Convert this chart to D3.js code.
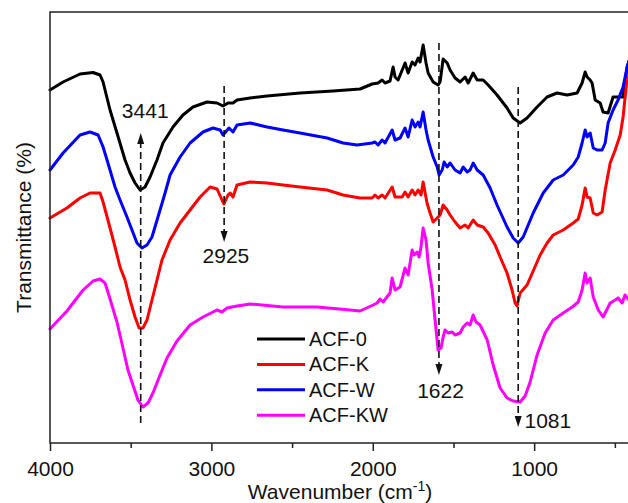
<!DOCTYPE html>
<html>
	<head>
		<meta charset="utf-8">
		<title> FTIR spectra </title>
		<style>
			body { margin: 0; background: #fff; }
			text { font-family: "Liberation Sans", Arial, sans-serif; fill: #111; }
			.curve { fill: none; stroke-width: 3; stroke-linejoin: round; stroke-linecap: round; }
		</style>
	</head>
	<body>
		<script src="https://d3js.org/d3.v7.min.js"></script>
		<script>
			// spectra: [wavenumber, transmittance (a.u.)]
			var acf0 = [[4000,70.6],[3919,72.2],[3814,73.8],[3733,74.1],[3690,73.6],[3671,72.2],[3659,70.6],[3628,66.6],[3585,62],[3535,56.6],[3504,54],[3473,52],[3442,50.6],[3411,51.2],[3380,53.2],[3337,56.6],[3300,60],[3238,63.2],[3176,65.6],[3114,67.2],[3027,68.2],[2965,68],[2928,67.4],[2897,68],[2866,68],[2841,68.6],[2760,69],[2655,69.4],[2451,70],[2246,70.4],[2079,70.8],[2004,71.8],[1967,72],[1942,72.6],[1924,72],[1893,72.4],[1874,75.2],[1862,73.2],[1843,72.6],[1800,76],[1781,74],[1756,76.2],[1738,75.6],[1719,77],[1707,76.2],[1688,79.6],[1670,76],[1657,74],[1626,72.2],[1595,71.6],[1583,72.2],[1564,76.8],[1539,76],[1521,74.6],[1490,73],[1459,72.2],[1428,73.2],[1409,72],[1378,74],[1353,72.6],[1316,72.6],[1285,71.6],[1230,69.6],[1168,67],[1130,65],[1087,64],[1044,65],[982,67.2],[920,69.2],[858,70],[796,69.6],[734,70],[703,72],[684,74.2],[672,73.2],[653,72.6],[641,72],[622,68.6],[591,68],[573,66.2],[542,66],[511,69.2],[480,69.2],[449,69.2],[424,75.2],[400,77.6]];
			var acfK = [[4000,45],[3895,47],[3814,49],[3752,50],[3690,50],[3671,48.2],[3628,43],[3597,39.2],[3566,35.2],[3535,32.6],[3504,28.6],[3473,25.2],[3448,23],[3424,23],[3399,24.6],[3368,28.6],[3337,32.6],[3306,36.6],[3256,40.6],[3194,44],[3132,46.6],[3070,49.2],[3008,51.2],[2965,50.8],[2934,48.6],[2922,47.8],[2897,49.6],[2884,50],[2866,49.2],[2841,51.6],[2760,52.2],[2655,52],[2556,51.6],[2451,51.2],[2283,50.6],[2184,49.6],[2079,49],[2004,49],[1986,49.6],[1967,49],[1942,49.6],[1924,49],[1880,51.2],[1862,49.2],[1818,49.2],[1800,50.2],[1781,49.2],[1756,50.6],[1738,49.6],[1719,50.6],[1701,49.6],[1688,52.2],[1664,48],[1645,46],[1626,44.2],[1601,45],[1583,45.6],[1564,47.6],[1539,46.6],[1521,45.6],[1490,44.2],[1459,43],[1428,43.6],[1409,43],[1378,44.6],[1353,43.6],[1316,43.2],[1285,42],[1242,39.6],[1211,37.2],[1168,34],[1137,30.6],[1118,28],[1106,27.4],[1087,30],[1044,31.6],[1006,34.4],[963,37.6],[920,40],[882,41.6],[820,42.6],[758,44],[727,44.8],[703,47.6],[684,51],[672,49.2],[653,49],[634,46],[610,45.6],[579,46.2],[560,50.6],[529,56],[498,58.6],[467,61.6],[449,65.2],[430,71.2],[418,74.6],[400,77.6]];
			var acfW = [[4000,54.6],[3919,58],[3814,61.6],[3752,62.2],[3702,61.6],[3671,59.2],[3641,56],[3597,51.2],[3566,48.6],[3523,45.2],[3492,42.6],[3461,40],[3430,39],[3399,39.6],[3368,41.2],[3331,45.2],[3287,50],[3256,53.6],[3194,57.2],[3132,60],[3052,62.2],[2990,63],[2946,62.6],[2928,61.6],[2891,63],[2866,62.2],[2841,63.6],[2760,64],[2655,63.2],[2556,62.6],[2451,62],[2283,61],[2184,60],[2097,59.6],[2004,60],[1986,60.2],[1967,59.6],[1942,60.6],[1924,60],[1880,62.6],[1862,60.6],[1831,61],[1800,63],[1781,61.2],[1756,64.6],[1738,63.2],[1719,64.2],[1707,63.2],[1688,66.2],[1670,62.6],[1657,60.6],[1626,57.2],[1601,55.2],[1589,53.6],[1570,54.6],[1558,56.2],[1539,55.2],[1521,56],[1490,54.6],[1459,54],[1440,55.2],[1415,54.2],[1397,54.6],[1378,56],[1353,54.6],[1316,53.6],[1273,51],[1230,47.6],[1168,43.2],[1130,41],[1099,40],[1068,41.2],[1006,46],[944,50],[882,52.6],[820,53.6],[758,55.6],[727,57.2],[703,60],[684,62.6],[672,61.2],[653,62],[634,59],[610,58.6],[579,58.6],[560,60],[542,64],[511,66.6],[480,68.6],[449,71.2],[424,75.2],[400,77.6]];
			var acfKW = [[4000,22.8],[3895,26.4],[3795,30.6],[3733,32.4],[3690,32.8],[3659,32],[3628,28.8],[3585,24.2],[3548,19],[3517,14.6],[3486,11.6],[3455,8.6],[3424,7.2],[3393,8],[3362,10],[3318,13.6],[3275,17],[3213,20.4],[3132,23.6],[3052,25.2],[2965,26.6],[2934,26.2],[2903,27],[2841,27.4],[2760,27.8],[2556,27.2],[2345,27.2],[2141,26.6],[2079,26.4],[1998,27.6],[1973,28],[1955,28.8],[1936,28.2],[1893,30],[1880,33],[1862,30.6],[1831,31.2],[1800,35],[1781,33.6],[1756,38.6],[1744,37.6],[1725,38.2],[1713,37.2],[1701,39.2],[1688,43],[1670,40.6],[1657,36],[1632,30.6],[1614,24.6],[1595,18.6],[1577,19],[1564,21.2],[1552,22.6],[1533,22],[1508,22.2],[1490,21.6],[1459,22],[1440,23.2],[1415,24],[1397,23.6],[1378,25.6],[1360,24.2],[1335,23.6],[1291,20.6],[1254,15.6],[1211,11],[1168,9],[1130,8.4],[1087,8.2],[1056,9.4],[1025,12.2],[982,17.6],[932,22],[882,24.6],[820,26],[764,27.2],[727,28.2],[703,30.6],[684,34],[672,32],[653,33],[634,29.2],[603,26.6],[573,25.2],[529,28],[498,28.6],[480,29],[455,28],[437,29.6],[418,28.8],[400,29]];

			var seriesNames = ["ACF-0", "ACF-K", "ACF-W", "ACF-KW"];
			var seriesColors = ["#000000", "#ff0000", "#0000ff", "#ff00ff"];
			var seriesData = [acf0, acfK, acfW, acfKW];

			var majorTicks = [4000, 3000, 2000, 1000];
			var minorTicks = [3500, 2500, 1500, 500];

			// peak markers: label, wavenumber where the dashed line sits, dash from/to, text position
			var peakLabels = ["3441", "2925", "1622", "1081"];
			var peakAt = [3438, 2921, 1590, 1099];
			var peakFrom = [4, 71.4, 80, 71.2];
			var peakTo = [62, 40.2, 13.6, 3.2];
			var peakText = [[3410, 65], [2910, 36], [1580, 9], [1060, 3]];
			var peakAnchor = ["middle", "middle", "middle", "start"];

			//SVG size and plot box
			var W = 628, H = 503;
			var margin = {top: 12, left: 50};
			var plotBottom = 443;

			var xScale = d3.scaleLinear()
							.domain([4000, 400])
							.range([margin.left, 631]);
			var yScale = d3.scaleLinear()
							.domain([0, 86.2])
							.range([plotBottom, margin.top]);

			var svg = d3.select("body")
							.append("svg")
							.attr("width", W)
							.attr("height", H);

			// curves
			var line = d3.line()
							.x(function(d) { return xScale(d[0]); })
							.y(function(d) { return yScale(d[1]); });

			svg.selectAll(".curve")
					.data(seriesData)
					.enter().append("path")
					.attr("class", "curve")
					.attr("stroke", function(d, i) { return seriesColors[i]; })
					.attr("d", line);

			// dashed marker lines with arrow heads
			var marks = svg.append("g");
			peakLabels.forEach(function(lab, i) {
				var x = xScale(peakAt[i]);
				var y0 = yScale(peakFrom[i]), y1 = yScale(peakTo[i]);
				var dir = y1 < y0 ? -1 : 1;
				marks.append("line")
						.attr("x1", x).attr("x2", x)
						.attr("y1", y0).attr("y2", y1 - dir * 9)
						.attr("stroke", "#111")
						.attr("stroke-width", 1.6)
						.attr("stroke-dasharray", "7,4");
				marks.append("path")
						.attr("d", "M" + (x - 3.5) + "," + (y1 - dir * 11) + "L" + (x + 3.5) + "," + (y1 - dir * 11) + "L" + x + "," + y1 + "Z")
						.attr("fill", "#111");
				marks.append("text")
						.attr("x", xScale(peakText[i][0]))
						.attr("y", yScale(peakText[i][1]))
						.attr("text-anchor", peakAnchor[i])
						.style("font-size", "21px")
						.text(lab);
			});

			// frame
			svg.append("rect")
					.attr("x", margin.left)
					.attr("y", margin.top)
					.attr("width", xScale(400) - margin.left)
					.attr("height", plotBottom - margin.top)
					.attr("fill", "none")
					.attr("stroke", "#222")
					.attr("stroke-width", 1.5);

			// x axis, major and minor ticks
			var xAxis = svg.append("g")
					.attr("transform", "translate(0," + plotBottom + ")")
					.call(d3.axisBottom(xScale).tickValues(majorTicks).tickSize(8).tickPadding(10).tickFormat(d3.format("d")));
			xAxis.select(".domain").remove();
			xAxis.selectAll("line").attr("stroke", "#222").attr("stroke-width", 1.5);
			xAxis.selectAll("text")
					.style("font-size", "21px")
					.style("font-family", "Liberation Sans, Arial, sans-serif")
					.attr("fill", "#111");

			var xMinor = svg.append("g")
					.attr("transform", "translate(0," + plotBottom + ")")
					.call(d3.axisBottom(xScale).tickValues(minorTicks).tickSize(5).tickFormat(""));
			xMinor.select(".domain").remove();
			xMinor.selectAll("line").attr("stroke", "#222").attr("stroke-width", 1.5);

			// axis titles
			var xTitle = svg.append("text")
					.attr("x", 340)
					.attr("y", 499)
					.attr("text-anchor", "middle")
					.style("font-size", "21px");
			xTitle.append("tspan").text("Wavenumber (cm");
			xTitle.append("tspan").attr("dy", -8).style("font-size", "14px").text("-1");
			xTitle.append("tspan").attr("dy", 8).text(")");

			svg.append("text")
					.attr("text-anchor", "middle")
					.attr("transform", "translate(31," + ((margin.top + plotBottom) / 2) + ") rotate(-90)")
					.style("font-size", "21px")
					.text("Transmittance (%)");

			// legend
			var legend = svg.append("g")
					.attr("transform", "translate(257,339)");
			var item = legend.selectAll("g")
					.data(seriesNames)
					.enter().append("g")
					.attr("transform", function(d, i) { return "translate(0," + (i * 25.4) + ")"; });
			item.append("line")
					.attr("x1", 0).attr("x2", 48)
					.attr("stroke", function(d, i) { return seriesColors[i]; })
					.attr("stroke-width", 3);
			item.append("text")
					.attr("x", 52)
					.attr("y", 7)
					.style("font-size", "20px")
					.text(function(d) { return d; });
		</script>
	</body>
</html>
